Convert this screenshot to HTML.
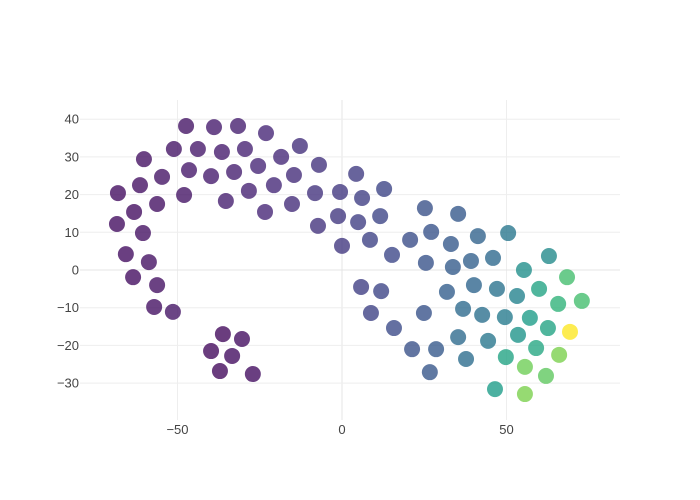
<!DOCTYPE html>
<html><head><meta charset="utf-8"><style>
body{margin:0;background:#fff;}
svg{display:block;font-family:"Liberation Sans",sans-serif;}
</style></head><body>
<svg id="chart" width="700" height="500"></svg>
<script>
const xValues=[-47.4,-38.9,-31.6,-23.1,-12.8,-60.2,-51.1,-43.8,-36.5,-29.5,-18.5,-7.0,-46.5,-54.7,-39.8,-32.8,-25.5,-14.6,4.3,-68.1,-61.4,-48.0,-28.3,-20.7,-8.2,-0.6,6.1,12.8,-63.2,-56.2,-35.3,-23.4,-15.2,-1.2,4.9,11.6,-7.3,-68.4,-60.5,25.2,35.3,0,8.5,15.2,20.7,27.1,33.1,41.3,50.5,-65.7,-58.7,25.5,33.7,39.2,45.9,62.9,-63.5,-56.2,55.3,68.4,5.8,11.9,31.9,40.1,47.1,53.2,59.9,72.9,65.7,-57.1,-51.4,8.8,24.9,36.8,42.6,49.5,57.1,15.8,62.6,69.3,-36.2,-30.4,35.3,53.5,-39.8,-33.4,21.3,28.6,44.4,59.0,66.0,37.7,49.8,-37.1,-27.1,26.7,55.6,62.0,46.5,55.6];
const yValues=[38.2,37.9,38.2,36.3,32.9,29.4,32.1,32.1,31.3,32.1,30.0,27.9,26.5,24.7,24.9,26.0,27.6,25.2,25.5,20.4,22.5,19.9,21.0,22.5,20.4,20.7,19.1,21.5,15.4,17.5,18.3,15.4,17.5,14.3,12.7,14.3,11.7,12.2,9.8,16.4,14.9,6.4,8.0,4.0,8.0,10.1,6.9,9.0,9.8,4.2,2.1,1.9,0.8,2.4,3.2,3.7,-1.9,-4.0,0,-1.9,-4.5,-5.6,-5.8,-4.0,-5.0,-6.9,-5.0,-8.2,-9.0,-9.8,-11.1,-11.4,-11.4,-10.3,-11.9,-12.5,-12.7,-15.4,-15.4,-16.4,-17.0,-18.3,-17.8,-17.2,-21.5,-22.8,-21.0,-21.0,-18.8,-20.7,-22.5,-23.6,-23.1,-26.8,-27.6,-27.1,-25.7,-28.1,-31.6,-32.9];
const colorValues=[0.06,0.08,0.09,0.11,0.14,0.05,0.06,0.07,0.08,0.1,0.12,0.15,0.07,0.06,0.08,0.09,0.11,0.13,0.18,0.04,0.05,0.06,0.1,0.12,0.15,0.17,0.19,0.21,0.04,0.05,0.09,0.11,0.13,0.17,0.19,0.21,0.15,0.04,0.05,0.25,0.28,0.17,0.2,0.22,0.24,0.26,0.28,0.32,0.4,0.04,0.05,0.26,0.29,0.31,0.34,0.48,0.04,0.05,0.5,0.7,0.19,0.21,0.3,0.33,0.38,0.45,0.58,0.7,0.65,0.05,0.06,0.2,0.26,0.35,0.37,0.42,0.55,0.23,0.58,1.0,0.03,0.04,0.35,0.52,0.03,0.04,0.25,0.28,0.4,0.6,0.8,0.36,0.58,0.03,0.04,0.27,0.78,0.75,0.55,0.8];
const xTicks=[-50,0,50];
const yTicks=[-30,-20,-10,0,10,20,30,40];
const tickLabels={"-50":"−50","-30":"−30","-20":"−20","-10":"−10"};

const NS="http://www.w3.org/2000/svg";
const svg=document.getElementById('chart');
const L=80,R=620,T=100,B=420;
const X=v=>342+v*3.29;
const Y=v=>270-v*3.77;
function mk(t,a){const e=document.createElementNS(NS,t);for(const k in a)e.setAttribute(k,a[k]);svg.appendChild(e);return e;}
const vir=[[68,1,84],[72,40,120],[62,74,137],[49,104,142],[38,130,142],[31,158,137],[53,183,121],[110,206,88],[181,222,43],[253,231,37]];
function viridis(t){t=Math.max(0,Math.min(1,t))*9;const i=Math.min(8,Math.floor(t)),f=t-i;const a=vir[i],b=vir[i+1];return 'rgb('+a.map((c,j)=>Math.round(c+(b[j]-c)*f)).join(',')+')';}
xTicks.forEach(v=>{
  const g=mk('line',{x1:X(v),x2:X(v),y1:T,y2:B,stroke:v===0?'#e4e4e4':'#eee','stroke-width':1});
  
  
  const t=mk('text',{x:X(v),y:B+14,'text-anchor':'middle','font-size':13,fill:'#444'});
  t.textContent=tickLabels[v]||String(v);
  
  
});
yTicks.forEach(v=>{
  const g=mk('line',{x1:L,x2:R,y1:Y(v),y2:Y(v),stroke:v===0?'#e4e4e4':'#eee','stroke-width':1});
  
  
  const t=mk('text',{x:L-1,y:Y(v)+4.5,'text-anchor':'end','font-size':13,fill:'#444'});
  t.textContent=tickLabels[v]||String(v);
  
  
});
xValues.forEach((xv,i)=>{
  const c=mk('circle',{cx:X(xv),cy:Y(yValues[i]),r:8,fill:viridis(colorValues[i]),'fill-opacity':0.8});
  
  
});
</script>
</body></html>
